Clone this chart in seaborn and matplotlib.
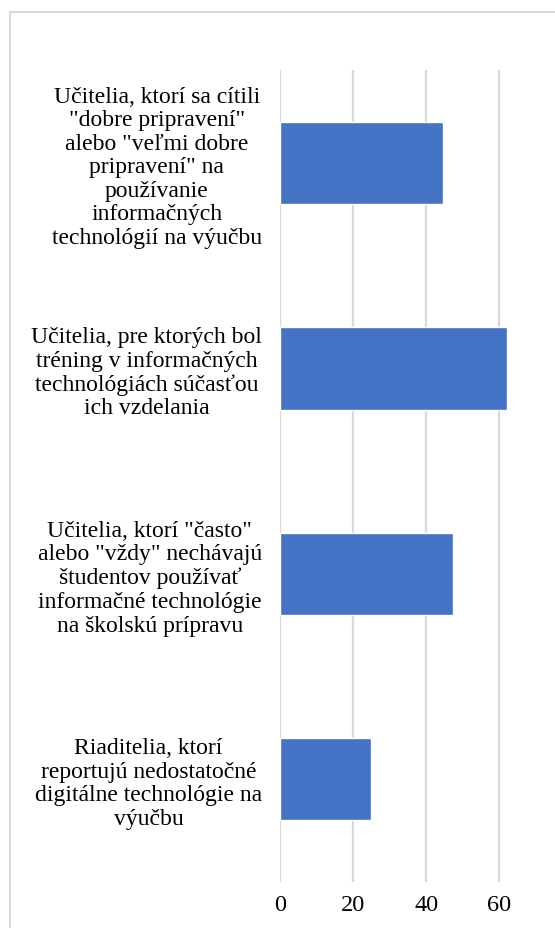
import matplotlib
matplotlib.use("Agg")
import matplotlib.pyplot as plt
import seaborn as sns
import pandas as pd
from matplotlib.patches import Rectangle

categories = [
    'Učitelia, ktorí sa cítili\n"dobre pripravení"\nalebo "veľmi dobre\npripravení" na\npoužívanie\ninformačných\ntechnológií na výučbu',
    'Učitelia, pre ktorých bol\ntréning v informačných\ntechnológiách súčasťou\nich vzdelania',
    'Učitelia, ktorí "často"\nalebo "vždy" nechávajú\nštudentov používať\ninformačné technológie\nna školskú prípravu',
    'Riaditelia, ktorí\nreportujú nedostatočné\ndigitálne technológie na\nvýučbu',
]
values = [44.7, 62.0, 47.3, 24.9]
xticks = [0, 20, 40, 60]

df = pd.DataFrame({"cat": categories, "val": values})

sns.set_theme(style="white")
plt.rcParams['font.family'] = ['Liberation Serif', 'DejaVu Serif']

W, H = 555, 929
fig = plt.figure(figsize=(W / 100, H / 100), dpi=100)
ax = fig.add_axes([280 / W, 1 - 883 / H, 256 / W, (883 - 71) / H])

sns.barplot(data=df, y="cat", x="val", orient="h", color="#4472C4",
            saturation=1, width=0.4, ax=ax)

ax.set_xlim(0, 70)
ax.set_ylim(3.5, -0.453)
ax.set_xticks(xticks)
ax.set_xticklabels([str(t) for t in xticks], fontsize=17.5, color="#000000")
ax.set_yticks(range(len(categories)))
ax.set_yticklabels(categories, fontsize=17, color="#000000",
                   multialignment="center", linespacing=1.16)
ax.set_xlabel("")
ax.set_ylabel("")
for s in ax.spines.values():
    s.set_visible(False)
ax.tick_params(axis="both", length=0)
ax.tick_params(axis="x", pad=9)
ax.tick_params(axis="y", pad=13)
ax.xaxis.grid(True, color="#d9d9d9", linewidth=1.6)
ax.set_axisbelow(True)

fig.patches.append(Rectangle((10 / W, -0.1), 1.2, 1 - 13 / H + 0.1,
                             transform=fig.transFigure, fill=False,
                             edgecolor="#d9d9d9", linewidth=1.5))

fig.savefig("out.png", dpi=100, facecolor="white")
